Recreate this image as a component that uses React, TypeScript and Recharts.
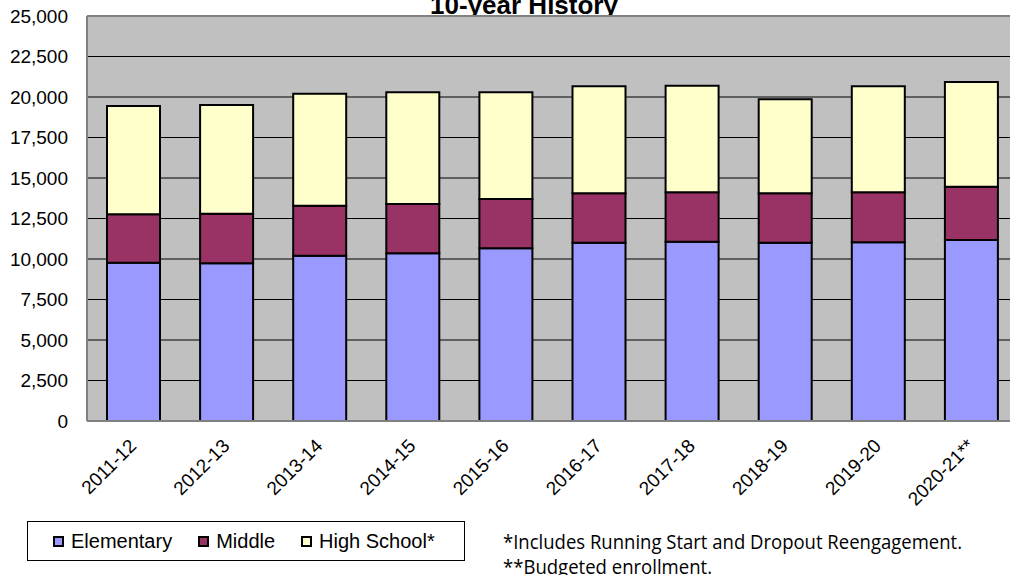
import { Bar, BarChart, CartesianGrid, Legend, ReferenceLine, XAxis, YAxis } from "recharts";

const years = ['2011-12', '2012-13', '2013-14', '2014-15', '2015-16', '2016-17', '2017-18', '2018-19', '2019-20', '2020-21**'];
const elementary = [9770, 9730, 10200, 10350, 10660, 11010, 11070, 11010, 11030, 11170];
const middle = [2990, 3070, 3090, 3050, 3040, 3050, 3050, 3050, 3090, 3290];
const highSchool = [6680, 6710, 6910, 6890, 6590, 6600, 6580, 5800, 6540, 6470];
const yTicks = [0, 2500, 5000, 7500, 10000, 12500, 15000, 17500, 20000, 22500, 25000];

const series = [
    { key: 'elementary', name: 'Elementary', color: '#9999FF' },
    { key: 'middle', name: 'Middle', color: '#993366' },
    { key: 'highSchool', name: 'High School*', color: '#FFFFCC' },
];

const data = years.map((year, i) => ({
    year,
    elementary: elementary[i],
    middle: middle[i],
    highSchool: highSchool[i],
}));

const FONT = '"Liberation Sans", Arial, sans-serif';

const XTick = (props: any) => {
    const { x, y, payload } = props;
    const ax = x + 4;
    const ay = y + 26;
    return (
        <text x={ax} y={ay} textAnchor="end" fill="#000" fontSize={19} fontFamily={FONT}
            transform={`rotate(-45 ${ax} ${ay})`}>
            {payload.value}
        </text>
    );
};

const LegendBox = () => (
    <div style={{
        boxSizing: 'border-box', width: 438, height: 40, border: '1px solid #000',
        display: 'flex', alignItems: 'center', paddingLeft: 25, fontFamily: FONT, fontSize: 20, color: '#000',
    }}>
        {series.map((s) => (
            <div key={s.key} style={{ display: 'flex', alignItems: 'center', marginRight: 26 }}>
                <span style={{ display: 'inline-block', boxSizing: 'border-box', width: 11, height: 11, background: s.color, border: '2px solid #000', marginRight: 7 }} />
                <span>{s.name}</span>
            </div>
        ))}
    </div>
);

export default function App() {
    return (
        <div style={{ position: 'absolute', left: 0, top: 0, width: 1010, height: 575, overflow: 'hidden', background: '#fff' }}>
            <div style={{
                position: 'absolute', left: 524, top: -8, transform: 'translateX(-50%)', whiteSpace: 'nowrap',
                fontFamily: FONT, fontWeight: 'bold', fontSize: 26, lineHeight: '26px', color: '#000',
            }}>
                10-year History
            </div>
            <div style={{ position: 'absolute', left: 0, top: 0 }}>
                <BarChart width={1020} height={575} data={data} barSize={53}
                    margin={{ top: 16, right: 2, left: 0, bottom: 0 }}>
                    <CartesianGrid vertical={false} fill="#C0C0C0" stroke="#000" strokeWidth={1} />
                    <XAxis dataKey="year" height={154} tickLine={false} tickSize={0} tickMargin={0}
                        axisLine={{ stroke: '#808080', strokeWidth: 2 }} tick={<XTick />} interval={0} />
                    <YAxis width={87} domain={[0, 25000]} ticks={yTicks} tickLine={false} tickSize={0} tickMargin={19}
                        axisLine={{ stroke: '#808080', strokeWidth: 2 }}
                        tick={{ fill: '#000', fontSize: 19, fontFamily: FONT }}
                        tickFormatter={(v: number) => v.toLocaleString('en-US')} />
                    <ReferenceLine y={25000} stroke="#808080" strokeWidth={2} />
                    <Legend layout="horizontal" verticalAlign="middle" align="center" content={<LegendBox />}
                        wrapperStyle={{ position: 'absolute', left: 27, top: 521, width: 438, height: 40 }} />
                    {series.map((s) => (
                        <Bar key={s.key} dataKey={s.key} name={s.name} stackId="enroll" fill={s.color}
                            stroke="#000" strokeWidth={2} isAnimationActive={false} />
                    ))}
                </BarChart>
            </div>
            <svg width={520} height={80} style={{ position: 'absolute', left: 490, top: 500 }}>
                <text x={13} y={49} fontFamily='"Open Sans", sans-serif' fontSize={20} fill="#000"
                    textLength={459} lengthAdjust="spacingAndGlyphs">
                    *Includes Running Start and Dropout Reengagement.
                </text>
                <text x={13} y={74} fontFamily='"Open Sans", sans-serif' fontSize={20} fill="#000"
                    textLength={209} lengthAdjust="spacingAndGlyphs">
                    **Budgeted enrollment.
                </text>
            </svg>
        </div>
    );
}
